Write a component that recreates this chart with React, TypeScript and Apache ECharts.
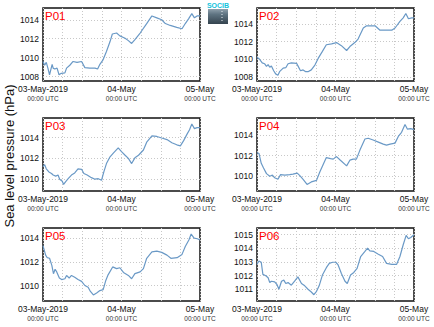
import React, { useEffect, useRef } from 'react';
import * as echarts from 'echarts';

// [hours since 03-May-2019 00:00 UTC, sea level pressure hPa]
const P01: number[][] = [
  [0, 1009.6], [0.5, 1009.2], [1.0, 1009.5], [1.5, 1008.9], [2.0, 1008.2], [2.8, 1009.3], [3.1, 1008.9],
  [3.6, 1008.8], [4.3, 1008.9], [4.9, 1008.2], [5.6, 1008.35], [6.7, 1008.4], [7.2, 1008.9], [8.2, 1009.2],
  [9.2, 1009.6], [10.4, 1009.5], [11.8, 1009.6], [12.8, 1008.95], [14.3, 1008.9], [15.9, 1008.9], [16.7, 1008.8],
  [17.4, 1009.3], [18.4, 1009.8], [19.4, 1010.65], [20.5, 1011.7], [21.2, 1012.5], [22.5, 1012.6], [23.5, 1012.3],
  [25.1, 1012.05], [26.1, 1011.8], [27.1, 1011.5], [28.1, 1011.9], [29.7, 1012.6], [31.7, 1013.6], [33.3, 1014.4],
  [34.8, 1014.2], [36.3, 1014.0], [37.4, 1013.6], [38.9, 1013.4], [40.9, 1013.2], [42.5, 1013.05], [43.5, 1013.6],
  [44.5, 1014.1], [45.5, 1014.65], [46.3, 1014.2], [47.1, 1014.4], [48, 1014.4],
];
const P02: number[][] = [
  [0, 1010.24], [0.8, 1010.0], [1.6, 1009.6], [2.3, 1009.5], [2.9, 1009.2], [3.4, 1009.4], [3.9, 1009.1],
  [4.4, 1009.25], [5.1, 1008.7], [5.7, 1008.35], [6.4, 1008.2], [6.9, 1008.6], [8.0, 1009.0], [8.8, 1009.05],
  [9.5, 1009.5], [10.5, 1009.6], [12.1, 1009.55], [12.6, 1009.2], [13.3, 1008.7], [14.1, 1008.8], [14.9, 1008.6],
  [15.6, 1008.6], [16.6, 1008.8], [17.7, 1009.35], [18.7, 1010.1], [20.0, 1010.9], [21.2, 1011.65], [22.8, 1011.75],
  [24.3, 1011.9], [25.8, 1011.55], [27.4, 1011.0], [28.4, 1011.45], [29.9, 1011.9], [30.9, 1012.3], [32.5, 1013.55],
  [33.5, 1013.8], [36.1, 1013.8], [37.6, 1013.3], [39.6, 1013.3], [41.2, 1013.3], [42.2, 1013.55], [43.7, 1014.3],
  [44.7, 1014.7], [45.5, 1015.2], [46.3, 1014.6], [47.3, 1014.7], [48, 1014.7],
];
const P03: number[][] = [
  [0, 1011.2], [0.5, 1011.4], [1.0, 1011.0], [1.8, 1010.7], [2.6, 1010.55], [3.1, 1010.4], [3.9, 1010.3],
  [4.6, 1010.4], [5.1, 1010.0], [5.9, 1009.8], [6.3, 1009.5], [7.0, 1009.8], [7.7, 1010.05], [8.7, 1010.4],
  [9.7, 1010.6], [10.7, 1011.0], [11.8, 1010.95], [12.5, 1010.55], [13.5, 1010.4], [14.8, 1010.15], [15.9, 1010.0],
  [16.9, 1010.05], [17.9, 1009.9], [18.6, 1010.7], [19.4, 1011.5], [20.5, 1012.15], [21.5, 1012.5], [23.0, 1013.0],
  [24.0, 1012.65], [25.1, 1012.3], [26.1, 1012.0], [27.1, 1011.5], [28.1, 1012.05], [29.2, 1012.3], [30.7, 1012.8],
  [31.7, 1013.55], [33.3, 1014.15], [34.8, 1014.1], [36.3, 1013.95], [37.9, 1013.8], [39.4, 1013.5], [40.9, 1013.3],
  [42.0, 1013.2], [43.0, 1013.7], [44.0, 1014.3], [44.8, 1014.75], [45.5, 1015.3], [46.3, 1014.85], [47.1, 1014.95],
  [48, 1014.95],
];
const P04: number[][] = [
  [0, 1012.28], [0.6, 1012.2], [1.3, 1011.25], [2.0, 1010.8], [2.9, 1010.25], [3.9, 1010.0], [4.7, 1010.1],
  [5.4, 1009.85], [6.4, 1009.7], [7.2, 1010.15], [8.5, 1010.1], [10.0, 1010.15], [11.0, 1010.2], [12.3, 1010.3],
  [13.1, 1010.05], [14.1, 1009.7], [15.3, 1009.2], [16.6, 1009.45], [18.2, 1009.6], [19.2, 1010.4], [20.2, 1011.1],
  [21.2, 1011.8], [22.5, 1011.7], [23.3, 1011.65], [24.3, 1011.9], [25.5, 1011.55], [27.4, 1011.0], [28.4, 1011.55],
  [29.4, 1011.65], [30.4, 1011.65], [31.5, 1012.55], [33.0, 1013.6], [34.0, 1013.67], [35.5, 1013.5], [37.1, 1013.3],
  [38.6, 1013.1], [39.6, 1013.0], [40.7, 1013.1], [42.2, 1013.2], [43.2, 1013.85], [44.2, 1014.25], [45.25, 1015.0],
  [46.0, 1014.55], [47.0, 1014.6], [48, 1014.5],
];
const P05: number[][] = [
  [0, 1013.37], [0.8, 1012.57], [1.3, 1012.35], [2.0, 1012.3], [2.7, 1011.7], [3.2, 1011.0], [3.7, 1011.37],
  [4.2, 1011.15], [5.0, 1010.63], [5.7, 1010.5], [6.7, 1010.57], [7.2, 1010.85], [8.0, 1010.63], [8.7, 1010.85],
  [9.7, 1010.7], [10.7, 1010.5], [11.8, 1010.35], [12.8, 1010.0], [13.8, 1009.85], [14.5, 1009.5], [15.4, 1009.2],
  [16.4, 1009.37], [17.4, 1009.57], [18.4, 1009.65], [19.2, 1010.43], [19.9, 1010.9], [21.3, 1011.57], [22.5, 1011.43],
  [23.5, 1011.5], [24.6, 1011.1], [26.1, 1010.85], [27.1, 1010.57], [28.1, 1011.0], [29.7, 1011.15], [30.7, 1011.43],
  [31.7, 1012.3], [33.3, 1012.85], [34.8, 1012.9], [36.3, 1012.8], [37.9, 1012.57], [39.1, 1012.3], [41.0, 1012.35],
  [42.5, 1012.63], [43.5, 1013.3], [44.6, 1013.85], [45.3, 1014.35], [46.2, 1014.0], [47.2, 1013.95], [48, 1013.85],
];
const P06: number[][] = [
  [0, 1012.83], [0.6, 1013.07], [1.3, 1012.98], [1.8, 1012.09], [2.7, 1011.99], [3.4, 1011.84], [3.9, 1011.49],
  [4.4, 1011.59], [5.4, 1011.54], [6.1, 1011.35], [6.7, 1011.0], [7.5, 1011.59], [8.2, 1011.67], [8.8, 1011.42],
  [9.5, 1011.49], [10.5, 1011.3], [11.5, 1011.59], [12.5, 1011.91], [13.6, 1011.42], [14.6, 1011.25], [15.6, 1011.0],
  [16.6, 1010.8], [17.4, 1010.6], [18.2, 1010.85], [19.0, 1011.25], [20.0, 1012.04], [21.2, 1012.58], [22.1, 1012.9],
  [23.1, 1012.98], [24.1, 1012.98], [24.8, 1012.78], [25.8, 1012.16], [26.9, 1011.59], [27.6, 1011.42], [28.6, 1012.04],
  [29.6, 1012.23], [30.6, 1012.53], [31.7, 1013.4], [33.0, 1013.77], [33.8, 1014.01], [34.5, 1013.81], [35.7, 1013.77],
  [37.1, 1013.57], [38.4, 1013.4], [39.6, 1012.9], [41.2, 1012.83], [42.7, 1012.83], [43.7, 1013.4], [44.7, 1014.26],
  [45.6, 1014.95], [46.3, 1014.7], [47.0, 1014.8], [48, 1015.0],
];

const panelNames = ['P01', 'P02', 'P03', 'P04', 'P05', 'P06'];
const panelData = [P01, P02, P03, P04, P05, P06];
const yMins = [1007.54, 1007.54, 1008.87, 1008.57, 1008.69, 1010.14];
const yMaxs = [1015.24, 1015.82, 1015.87, 1015.63, 1014.86, 1015.49];
const yTicks = [
  [1008, 1010, 1012, 1014],
  [1008, 1010, 1012, 1014],
  [1010, 1012, 1014],
  [1010, 1012, 1014],
  [1010, 1012, 1014],
  [1011, 1012, 1013, 1014, 1015],
];
const xTickHours = [0, 24, 48];
const xTickLabels = ['03-May-2019', '04-May', '05-May'];
const xTickSub = '00:00 UTC';
const yTitle = 'Sea level pressure (hPa)';

const FONT = 'Liberation Sans, Arial, Helvetica, sans-serif';
const LINE_COLOR = '#6a99c6';
const GRID_COLOR = '#c8c8c8';

const colLefts = [43, 257];
const rowTops = [8, 118, 228];
const PW = 157;
const PH = 73;

export default function App() {
  const ref = useRef<HTMLDivElement>(null);
  useEffect(() => {
    if (!ref.current) return;
    const chart = echarts.init(ref.current, undefined, { renderer: 'svg' });
    const grids: any[] = [];
    const xAxes: any[] = [];
    const yAxes: any[] = [];
    const series: any[] = [];
    const graphics: any[] = [];
    panelNames.forEach((name, i) => {
      const left = colLefts[i % 2];
      const top = rowTops[Math.floor(i / 2)];
      grids.push({
        left, top, width: PW, height: PH, show: true,
        borderColor: '#111', borderWidth: 1.5, backgroundColor: 'transparent',
        containLabel: false, outerBoundsMode: 'none',
      });
      xAxes.push({
        gridIndex: i, type: 'value', min: 0, max: 48, interval: 6,
        axisLine: { show: false }, axisTick: { show: false },
        splitLine: { show: true, lineStyle: { color: GRID_COLOR, type: [1, 2], width: 1 } },
        axisLabel: {
          show: true, margin: 3, showMinLabel: true, showMaxLabel: true, hideOverlap: false,
          formatter: (v: number) => {
            const k = xTickHours.indexOf(Math.round(v));
            if (k < 0) return '';
            return '{a|' + xTickLabels[k] + '}\n{b|' + xTickSub + '}';
          },
          rich: {
            a: { fontSize: 8.5, fontFamily: FONT, color: '#111', lineHeight: 10, align: 'center' },
            b: { fontSize: 6.5, fontFamily: FONT, color: '#333', lineHeight: 9, align: 'center' },
          },
        },
      });
      yAxes.push({
        gridIndex: i, type: 'value', min: yMins[i], max: yMaxs[i],
        axisLine: { show: false },
        axisTick: { show: false },
        axisLabel: {
          customValues: yTicks[i], fontSize: 8.5, fontFamily: FONT, color: '#111', margin: 4,
          formatter: (v: number) => String(Math.round(v)),
        },
        splitLine: { show: false },
      });
      series.push({
        type: 'line', xAxisIndex: i, yAxisIndex: i, data: panelData[i],
        showSymbol: false, symbol: 'none', clip: true,
        lineStyle: { color: LINE_COLOR, width: 1.2 },
        z: 3,
        markLine: {
          silent: true, symbol: ['none', 'none'], label: { show: false }, animation: false,
          lineStyle: { color: GRID_COLOR, type: [1, 2], width: 1 },
          emphasis: { disabled: true },
          data: yTicks[i].map((v) => ({ yAxis: v })),
          z: 1,
        },
      });
      graphics.push({
        type: 'text', left: left + 2, top: top + 1.5, z: 100,
        style: { text: name, fill: '#ff0000', fontSize: 11.5, fontFamily: FONT },
      });
    });
    graphics.push({
      type: 'text', x: 9, y: 156, rotation: Math.PI / 2, z: 100,
      style: { text: yTitle, fill: '#111', fontSize: 13, fontFamily: FONT, align: 'center', verticalAlign: 'middle' },
    });
    // logo
    graphics.push({
      type: 'rect', shape: { x: 208, y: 9, width: 20, height: 15 },
      style: {
        fill: new echarts.graphic.LinearGradient(0, 0, 0, 1, [
          { offset: 0, color: '#8fa0ac' },
          { offset: 0.35, color: '#5f7482' },
          { offset: 1, color: '#34434e' },
        ]),
      },
    });
    graphics.push({
      type: 'line', shape: { x1: 222, y1: 11, x2: 222, y2: 22 },
      style: { stroke: '#e8eef2', lineWidth: 1, lineDash: [1, 2] },
    });
    graphics.push({
      type: 'text', x: 218, y: 5.5,
      style: { text: 'SOCIB', fill: '#12c3dc', fontSize: 7, fontWeight: 'bold', fontFamily: FONT, align: 'center', verticalAlign: 'middle' },
    });
    chart.setOption({
      animation: false,
      backgroundColor: '#fff',
      grid: grids,
      xAxis: xAxes,
      yAxis: yAxes,
      series,
      graphic: graphics,
    });
    return () => chart.dispose();
  }, []);
  return <div ref={ref} style={{ position: 'fixed', left: 0, top: 0, width: 434, height: 327 }} />;
}
